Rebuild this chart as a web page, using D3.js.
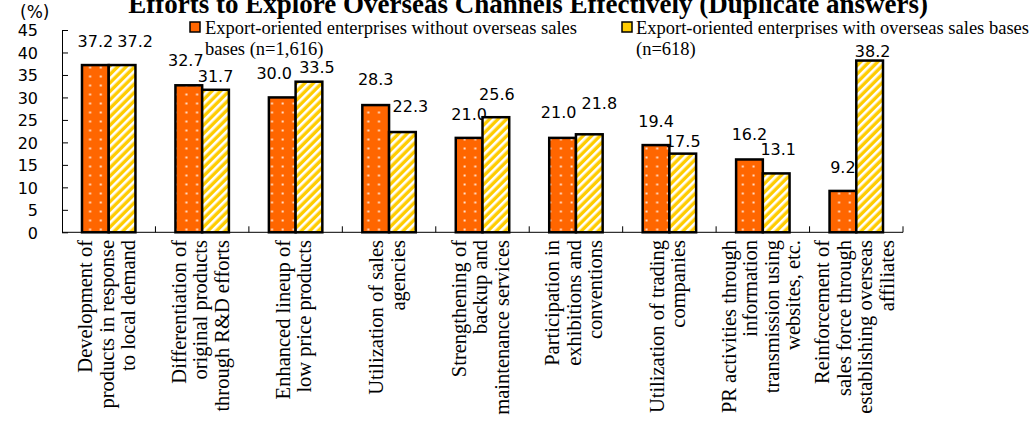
<!DOCTYPE html>
<html>
<head>
<meta charset="utf-8">
<script src="https://cdn.jsdelivr.net/npm/d3@7"></script>
<style>
  html, body { margin: 0; padding: 0; background: #fff; }
  svg { display: block; }
</style>
</head>
<body>
<svg id="chart" width="1034" height="423"></svg>
<script>
// Category labels, one array entry per line of the wrapped label
const categories = [
  ["Development of", "products in response", "to local demand"],
  ["Differentiation of", "original products", "through R&D efforts"],
  ["Enhanced lineup of", "low price products"],
  ["Utilization of sales", "agencies"],
  ["Strengthening of", "backup and", "maintenance services"],
  ["Participation in", "exhibitions and", "conventions"],
  ["Utilization of trading", "companies"],
  ["PR activities through", "information", "transmission using", "websites, etc."],
  ["Reinforcement of", "sales force through", "establishing overseas", "affiliates"]
];

// Shares of companies (%)
const withoutBases = [37.2, 32.7, 30.0, 28.3, 21.0, 21.0, 19.4, 16.2, 9.2];
const withBases    = [37.2, 31.7, 33.5, 22.3, 25.6, 21.8, 17.5, 13.1, 38.2];

const seriesNames = [
  ["Export-oriented enterprises without overseas sales", "bases (n=1,616)"],
  ["Export-oriented enterprises with overseas sales bases", "(n=618)"]
];

const yTicks = [0, 5, 10, 15, 20, 25, 30, 35, 40, 45];

// Hand-placed label offsets [dx, dy] relative to the default spot above each bar
const labelShiftA = [[0,0],[-3,-1],[-8,0],[0,-2],[0,0],[-4,-2],[0,0],[0,-1],[0,0]];
const labelShiftB = [[13,0],[0,10],[8,9],[8,-2],[1,1],[10,-7],[0,11],[2,0],[3,14]];

const svg = d3.select("#chart");

const plot = { left: 62, right: 903, top: 30, bottom: 232.3 };

const x = d3.scaleBand()
  .domain(d3.range(categories.length))
  .range([plot.left, plot.right])
  .paddingInner(0).paddingOuter(0);

const groupW = x.bandwidth() * 0.572;
const xs = d3.scaleBand()
  .domain([0, 1])
  .range([(x.bandwidth() - groupW) / 2, (x.bandwidth() + groupW) / 2]);

const y = d3.scaleLinear().domain([0, 45]).range([plot.bottom, plot.top]);

// Fill patterns
const defs = svg.append("defs");
const dots = defs.append("pattern")
  .attr("id", "dotsOrange")
  .attr("patternUnits", "userSpaceOnUse")
  .attr("width", 10.7).attr("height", 9);
dots.append("rect").attr("width", 10.7).attr("height", 9).attr("fill", "#FF6600");
dots.append("rect").attr("x", 3.5).attr("y", 3.5).attr("width", 2).attr("height", 2).attr("fill", "#FFE0CC");

const stripes = defs.append("pattern")
  .attr("id", "stripesYellow")
  .attr("patternUnits", "userSpaceOnUse")
  .attr("width", 6).attr("height", 6)
  .attr("patternTransform", "rotate(45)");
stripes.append("rect").attr("width", 6).attr("height", 6).attr("fill", "#FFCC00");
stripes.append("rect").attr("width", 2.6).attr("height", 6).attr("fill", "#FFFFFF");

const fills = ["url(#dotsOrange)", "url(#stripesYellow)"];
const legendFills = ["#FF6600", "#FFCC00"];

// Title (runs up against the top edge of the frame)
svg.append("text")
  .attr("x", 928).attr("y", 13)
  .attr("text-anchor", "end")
  .attr("font-family", "'Liberation Serif', 'Times New Roman', serif")
  .attr("font-weight", "bold")
  .attr("font-size", 27)
  .text("Efforts to Explore Overseas Channels Effectively (Duplicate answers)");

// Unit label
svg.append("text")
  .attr("x", 20).attr("y", 18)
  .attr("font-family", "'DejaVu Sans', sans-serif")
  .attr("font-size", 17)
  .text("(%)");

// Y axis
const yAxis = svg.append("g")
  .attr("transform", `translate(${plot.left},0)`)
  .call(d3.axisLeft(y).tickValues(yTicks).tickSizeInner(-6).tickSizeOuter(0).tickPadding(30));
yAxis.select(".domain").attr("stroke", "#000").attr("stroke-width", 1);
yAxis.selectAll(".tick line").attr("stroke", "#000");
yAxis.selectAll(".tick text")
  .attr("font-family", "'DejaVu Sans', sans-serif")
  .attr("font-size", 16)
  .attr("fill", "#000")
  .attr("x", -24)
  .attr("dy", "0.36em");

// X axis baseline with inward tick marks between categories
svg.append("line")
  .attr("x1", plot.left).attr("x2", plot.right)
  .attr("y1", y(0)).attr("y2", y(0))
  .attr("stroke", "#000").attr("stroke-width", 1);
svg.append("g").selectAll("line")
  .data(d3.range(1, categories.length + 1))
  .join("line")
  .attr("x1", i => x(i - 1) + x.bandwidth()).attr("x2", i => x(i - 1) + x.bandwidth())
  .attr("y1", y(0)).attr("y2", y(0) - 6)
  .attr("stroke", "#000").attr("stroke-width", 1);

// Bars
const series = [withoutBases, withBases];
const shifts = [labelShiftA, labelShiftB];

series.forEach((vals, s) => {
  const g = svg.append("g");
  g.selectAll("rect")
    .data(vals)
    .join("rect")
    .attr("x", (d, i) => x(i) + xs(s))
    .attr("y", d => y(d))
    .attr("width", xs.bandwidth())
    .attr("height", d => y(0) - y(d))
    .attr("fill", fills[s])
    .attr("stroke", "#000")
    .attr("stroke-width", 2.5);

  g.selectAll("text")
    .data(vals)
    .join("text")
    .attr("x", (d, i) => x(i) + xs(s) + xs.bandwidth() / 2 + shifts[s][i][0])
    .attr("y", (d, i) => y(d) - 18 + shifts[s][i][1])
    .attr("text-anchor", "middle")
    .attr("font-family", "'DejaVu Sans', sans-serif")
    .attr("font-size", 16)
    .attr("fill", "#000")
    .text(d => d.toFixed(1));
});

// Category labels, rotated and right-aligned against the axis
const lineGap = 21.5;
const catG = svg.append("g");
categories.forEach((lines, i) => {
  const cx = x(i) + x.bandwidth() / 2 - 2;
  const n = lines.length;
  lines.forEach((line, k) => {
    const lx = cx + (k - (n - 1) / 2) * lineGap;
    catG.append("text")
      .attr("transform", `translate(${lx},240) rotate(-90)`)
      .attr("text-anchor", "end")
      .attr("dy", "0.34em")
      .attr("font-family", "'Liberation Serif', 'Times New Roman', serif")
      .attr("font-size", 20.5)
      .attr("fill", "#000")
      .text(line);
  });
});

// Legend
const legendPos = [{ x: 190, tx: 205 }, { x: 622, tx: 636 }];
seriesNames.forEach((lines, s) => {
  const lg = svg.append("g");
  lg.append("rect")
    .attr("x", legendPos[s].x).attr("y", 22)
    .attr("width", 10).attr("height", 10)
    .attr("fill", legendFills[s])
    .attr("stroke", "#000").attr("stroke-width", 1.5);
  lines.forEach((t, k) => {
    lg.append("text")
      .attr("x", legendPos[s].tx).attr("y", 34 + k * 20.7)
      .attr("font-family", "'Liberation Serif', 'Times New Roman', serif")
      .attr("font-size", 18.5)
      .attr("fill", "#000")
      .text(t);
  });
});
</script>
</body>
</html>
